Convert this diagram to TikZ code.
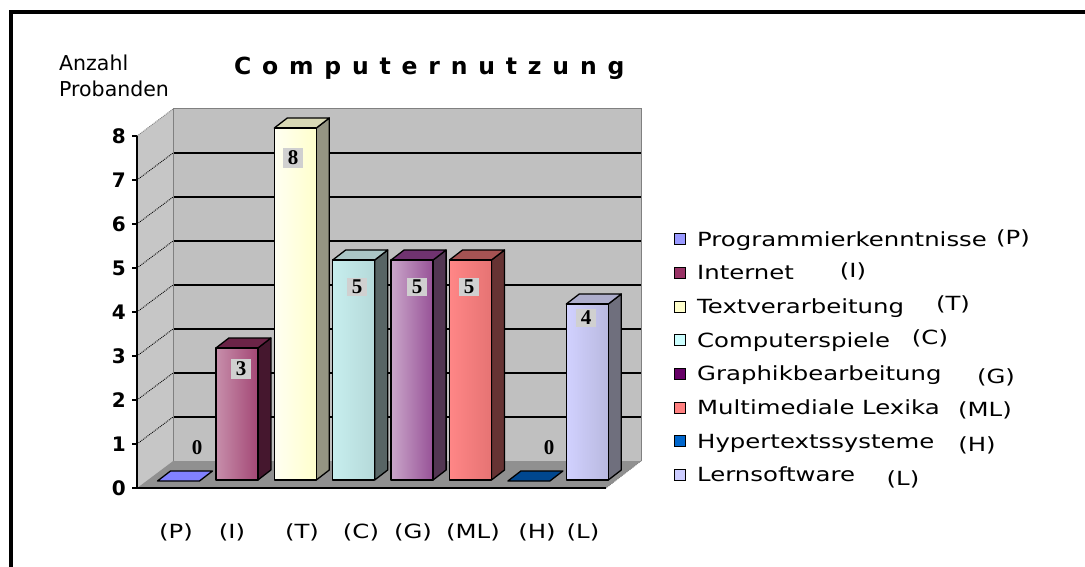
\documentclass[tikz,border=0pt]{standalone}
\usepackage{fontspec}
\setmainfont{DejaVu Sans}
\newfontfamily\legendfont{DejaVu Sans}[FakeStretch=1.25]
\newfontfamily\titlefont{DejaVu Sans}[LetterSpace=46]
\newfontfamily\valuefont{Liberation Serif}

% wall, floor and series colours
\definecolor{wallgray}{HTML}{C0C0C0}
\definecolor{sidegray}{HTML}{C6C6C6}
\definecolor{floorgray}{HTML}{909090}
\definecolor{edgegray}{HTML}{808080}
\definecolor{labelgray}{HTML}{D0D0D0}
\definecolor{cP}{HTML}{9999FF}
\definecolor{cI}{HTML}{993366}
\definecolor{cT}{HTML}{FFFFCC}
\definecolor{cC}{HTML}{CCFFFF}
\definecolor{cG}{HTML}{660066}
\definecolor{cML}{HTML}{FF8080}
\definecolor{cH}{HTML}{0066CC}
\definecolor{cL}{HTML}{CCCCFF}

% one 3D column: left x, value, front-left, front-right, top, side colour
\newcommand\drawcolumn[6]{%
  \pgfmathsetmacro\ytop{480-44*#2}%
  \filldraw[coledge, fill=#6] (#1+42,480) -- (#1+55,470) -- (#1+55,\ytop-10) -- (#1+42,\ytop) -- cycle;
  \filldraw[coledge, fill=#5] (#1,\ytop) -- (#1+13,\ytop-10) -- (#1+55,\ytop-10) -- (#1+42,\ytop) -- cycle;
  \shade[left color=#3, right color=#4] (#1,480) rectangle (#1+42,\ytop);
  \draw[coledge] (#1,480) rectangle (#1+42,\ytop);
}
% a column of height zero, drawn as a flat plate on the floor
\newcommand\drawflat[2]{%
  \filldraw[coledge, fill=#2] (#1,481) -- (#1+13,471) -- (#1+55,471) -- (#1+42,481) -- cycle;
}

\begin{document}
\begin{tikzpicture}[x=1pt, y=-1pt,
  coledge/.style={draw=black, line width=1.3pt, line join=round},
  gridline/.style={draw=black, line width=1.4pt},
  sidegrid/.style={draw=black, line width=0.9pt, densely dotted},
  axisline/.style={draw=black, line width=1.4pt},
  valbox/.style={fill=labelgray, inner xsep=5pt, inner ysep=2.5pt,
    font=\valuefont\bfseries\fontsize{21}{21}\selectfont},
  valtext/.style={inner sep=1pt, font=\valuefont\bfseries\fontsize{21}{21}\selectfont},
  ticklabel/.style={anchor=east, inner sep=0pt, font=\bfseries\fontsize{20}{20}\selectfont},
  legtext/.style={anchor=base west, inner sep=0pt, font=\legendfont\fontsize{19.5}{20}\selectfont},
  codetext/.style={inner sep=0pt, font=\legendfont\fontsize{19.5}{20}\selectfont},
  swatch/.style={draw=black, line width=0.8pt, minimum size=11pt, inner sep=0pt},
  axistitle/.style={anchor=base west, inner sep=0pt, font=\fontsize{20.5}{21}\selectfont}]

\useasboundingbox (0,0) rectangle (1085,567);
\fill[white] (0,0) rectangle (1085,567);

% outer frame (top and left edges only)
\draw[line width=4pt, line join=miter] (1085,12) -- (10.5,12) -- (10.5,567);

% walls and floor
\fill[wallgray] (173,109) rectangle (641,461);
\fill[sidegray] (137,136) -- (173,109) -- (173,461) -- (137,488) -- cycle;
\fill[floorgray] (137,488) -- (173,461) -- (641,461) -- (606,488) -- cycle;

% grid lines on the back wall and the side wall
\foreach \v in {1,...,7} {
  \draw[gridline] (173,{461-44*\v}) -- (641,{461-44*\v});
}
\foreach \v in {1,...,7} {
  \draw[sidegrid] (137,{488-44*\v}) -- (173,{461-44*\v});
}
\draw[edgegray, line width=0.9pt, densely dotted] (137,136) -- (173,109);
\draw[edgegray, line width=1pt] (173,461) -- (173,109) -- (641,109) -- (641,461);
\draw[edgegray, line width=0.9pt, densely dotted] (641,461) -- (606,488);

% value axis and category axis
\draw[axisline] (137,136) -- (137,488) -- (606,488);
\foreach \v in {0,...,8} {
  \draw[axisline] (132,{488-44*\v}) -- (137,{488-44*\v});
  \node[ticklabel] (tick\v) at (126,{488-44*\v}) {\v};
}

% columns
\drawflat{157.5}{cP!70!blue!85!white}
\drawcolumn{215.9}{3}{cI!55!white}{cI!90!white}{cI!70!black}{cI!45!black}
\drawcolumn{274.3}{8}{cT!25!white}{cT}{cT!70!gray}{cT!45!gray!80!black}
\drawcolumn{332.7}{5}{cC!85!gray!90!white}{cC!70!gray}{cC!55!gray}{cC!35!black!70!gray}
\drawcolumn{391.1}{5}{cG!35!white}{cG!68!white}{cG!60!gray}{cG!40!gray!70!black}
\drawcolumn{449.5}{5}{cML!95!white}{cML!90!black}{cML!65!black}{cML!40!black}
\drawflat{507.9}{cH!70!black}
\drawcolumn{566.3}{4}{cL!90!white}{cL!75!gray}{cL!60!gray}{cL!40!gray!70!black}

% data labels
\node[valtext] (valP) at (197,448) {0};
\node[valbox] (valI) at (241,369) {3};
\node[valbox] (valT) at (293,158) {8};
\node[valbox] (valC) at (357,287) {5};
\node[valbox] (valG) at (417,287) {5};
\node[valbox] (valML) at (469,287) {5};
\node[valtext] (valH) at (549,448) {0};
\node[valbox] (valL) at (586,318) {4};

% titles
\node[anchor=base west, inner sep=0pt, font=\titlefont\bfseries\fontsize{23.5}{24}\selectfont]
  (title) at (234,75) {Computernutzung};
\node[axistitle] (ytitleA) at (59,71) {Anzahl};
\node[axistitle] (ytitleB) at (59,97) {Probanden};

% category codes under the axis
\node[codetext] (catP) at (176,532) {(P)};
\node[codetext] (catI) at (232,532) {(I)};
\node[codetext] (catT) at (302,532) {(T)};
\node[codetext] (catC) at (361,532) {(C)};
\node[codetext] (catG) at (413,532) {(G)};
\node[codetext] (catML) at (473,532) {(ML)};
\node[codetext] (catH) at (537,532) {(H)};
\node[codetext] (catL) at (583,532) {(L)};

% legend
\foreach \txt/\col [count=\k from 0] in {Programmierkenntnisse/cP, Internet/cI,
    Textverarbeitung/cT, Computerspiele/cC, Graphikbearbeitung/cG,
    Multimediale Lexika/cML, Hypertextssysteme/cH, Lernsoftware/cL} {
  \node[swatch, fill=\col] (sw\k) at (679.5,{239+33.7*\k}) {};
  \node[legtext] (leg\k) at (697,{246+33.7*\k}) {\txt};
}
\node[codetext] (codeP) at (1013,238) {(P)};
\node[codetext] (codeI) at (853,271) {(I)};
\node[codetext] (codeT) at (953,304) {(T)};
\node[codetext] (codeC) at (930,338) {(C)};
\node[codetext] (codeG) at (996,377) {(G)};
\node[codetext] (codeML) at (985,410) {(ML)};
\node[codetext] (codeH) at (977,445) {(H)};
\node[codetext] (codeL) at (903,479) {(L)};
\end{tikzpicture}
\end{document}
